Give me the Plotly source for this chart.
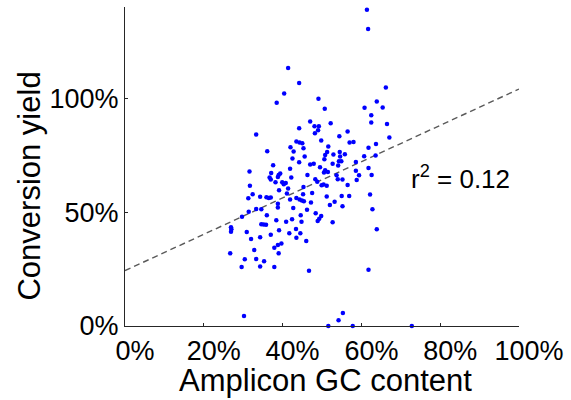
import plotly.graph_objects as go

# GC content (%) of each amplicon
gc_content = [61.4, 61.7, 41.4, 44.2, 40.4, 38.5, 66.2, 49.1, 50.7, 60.8,
              63.9, 65.4, 62.5, 62.5, 66.5, 47.0, 52.2, 48.1, 49.2, 49.0,
              48.2, 44.2, 33.3, 56.5, 54.4, 67.1, 57.0, 58.0, 49.8, 43.5,
              44.3, 45.0, 42.0, 45.3, 63.7, 61.8, 51.6, 36.1, 42.8, 52.9,
              54.5, 55.8, 51.3, 50.8, 50.6, 45.6, 42.5, 44.2, 54.6, 60.7,
              63.6, 37.6, 47.0, 47.9, 54.3, 54.9, 52.7, 58.6, 54.1, 31.6,
              41.9, 49.5, 50.8, 51.5, 50.5, 58.6, 59.4, 61.8, 62.6, 37.1,
              39.0, 39.4, 36.7, 37.0, 38.8, 46.3, 42.2, 53.7, 54.0, 55.2,
              58.8, 38.2, 39.9, 40.8, 40.3, 48.3, 48.8, 50.4, 49.9, 51.2,
              56.5, 31.7, 41.4, 39.1, 45.2, 41.1, 47.5, 32.4, 31.3, 34.3,
              35.9, 37.0, 36.5, 43.5, 44.3, 44.9, 45.4, 41.9, 38.8, 38.8,
              42.7, 46.2, 47.2, 51.2, 55.0, 56.9, 53.2, 52.0, 55.2, 62.2,
              62.8, 31.4, 33.3, 34.6, 36.0, 48.4, 49.8, 49.3, 48.9, 42.4,
              40.9, 44.6, 44.8, 52.7, 38.4, 34.6, 35.2, 35.8, 63.9, 26.9,
              27.0, 26.9, 30.9, 39.1, 43.4, 41.7, 44.5, 37.0, 32.0, 34.3,
              43.5, 46.0, 39.7, 38.8, 37.9, 32.8, 26.7, 39.0, 30.4, 33.3,
              35.3, 29.6, 34.3, 37.9, 46.7, 61.8, 30.2, 55.3, 54.2, 51.6,
              57.8, 72.8, 29.7, 45.3]

# Conversion yield (%) of each amplicon
conversion_yield = [138.8, 130.3, 113.2, 106.7, 102.0, 98.0, 104.7, 99.7, 95.3, 95.8,
                    98.5, 95.9, 92.5, 89.3, 88.6, 89.8, 89.0, 87.7, 87.7, 85.9,
                    84.6, 86.8, 84.0, 85.4, 83.3, 82.7, 80.5, 80.8, 81.4, 81.0,
                    80.5, 80.2, 78.5, 78.0, 79.9, 78.2, 78.8, 76.7, 76.6, 75.3,
                    76.4, 75.4, 76.4, 75.0, 73.2, 74.4, 73.5, 71.9, 74.4, 74.5,
                    74.8, 70.6, 70.9, 71.2, 72.3, 72.3, 71.2, 72.0, 70.4, 67.8,
                    69.0, 69.7, 68.4, 67.6, 67.4, 68.1, 66.2, 69.3, 66.3, 67.2,
                    66.3, 66.9, 65.2, 64.3, 65.4, 66.3, 65.2, 66.2, 64.4, 64.3,
                    64.1, 63.1, 63.1, 62.8, 62.2, 64.4, 63.3, 62.1, 61.8, 61.5,
                    61.9, 61.5, 60.3, 59.6, 57.8, 58.1, 58.4, 57.8, 56.1, 56.7,
                    56.5, 56.4, 56.2, 56.2, 55.5, 55.1, 54.8, 55.5, 53.6, 52.0,
                    51.8, 51.0, 54.2, 56.8, 57.1, 57.1, 54.5, 53.1, 52.6, 57.7,
                    51.2, 50.1, 51.4, 51.2, 48.6, 49.5, 48.3, 47.1, 46.1, 46.9,
                    45.7, 48.6, 45.8, 45.5, 46.4, 44.7, 44.5, 44.4, 42.5, 43.3,
                    42.5, 41.4, 41.3, 42.0, 42.6, 40.7, 40.7, 40.1, 38.2, 38.9,
                    38.7, 37.3, 36.2, 35.6, 34.3, 33.4, 31.9, 31.9, 29.3, 29.4,
                    28.4, 25.9, 26.1, 25.9, 24.2, 24.7, 4.4, 5.7, 2.5, 0.0,
                    0.0, 0.0, 48.0, 61.0]

# Linear fit
fit_intercept = 24.3
fit_slope = 0.797
r_squared_text = "r<sup>2</sup> = 0.12"

x_tick_vals = [0, 20, 40, 60, 80, 100]
x_tick_text = ["0%", "20%", "40%", "60%", "80%", "100%"]
y_tick_vals = [0, 50, 100]
y_tick_text = ["0%", "50%", "100%"]
x_title = "Amplicon GC content"
y_title = "Conversion yield"

FONT = "Arial, Liberation Sans, sans-serif"
AXIS_COLOR = "#262626"

fit_x = [x_tick_vals[0], x_tick_vals[-1]]
fit_y = [fit_intercept + fit_slope * v for v in fit_x]

fig = go.Figure()
fig.add_trace(go.Scatter(
    x=fit_x, y=fit_y, mode="lines",
    line=dict(color="#5a5a5a", width=1.4, dash="6px,4px"),
    hoverinfo="skip", showlegend=False,
))
fig.add_trace(go.Scatter(
    x=gc_content, y=conversion_yield, mode="markers",
    marker=dict(color="#0000ff", size=4.5, line=dict(width=0)),
    cliponaxis=False, showlegend=False,
))

fig.update_layout(
    width=571, height=400,
    margin=dict(l=125, r=46, t=7.3, b=73.5),
    paper_bgcolor="white", plot_bgcolor="white",
    font=dict(family=FONT, color="black"),
    showlegend=False,
    xaxis=dict(
        range=[0, 100], tickvals=x_tick_vals, ticktext=x_tick_text,
        showgrid=False, zeroline=False, showline=True, linecolor=AXIS_COLOR,
        linewidth=1.3, ticks="inside", ticklen=3, tickcolor=AXIS_COLOR,
        tickwidth=1.3, tickfont=dict(size=27, family=FONT, color="black"),
        ticklabelshift=10,
    ),
    yaxis=dict(
        range=[0, 140], tickvals=y_tick_vals, ticktext=y_tick_text,
        showgrid=False, zeroline=False, showline=True, linecolor=AXIS_COLOR,
        linewidth=1.3, ticks="inside", ticklen=3, tickcolor=AXIS_COLOR,
        tickwidth=1.3, tickfont=dict(size=27, family=FONT, color="black"),
    ),
    annotations=[
        dict(text=x_title, xref="paper", yref="paper", x=0.51, y=-0.1707,
             xanchor="center", yanchor="middle", showarrow=False,
             font=dict(size=31, family=FONT, color="black")),
        dict(text=y_title, xref="paper", yref="paper", x=-0.2425, y=0.4386,
             xanchor="center", yanchor="middle", textangle=-90, showarrow=False,
             font=dict(size=31, family=FONT, color="black")),
        dict(text=r_squared_text, xref="x", yref="y", x=72, y=65,
             xanchor="left", yanchor="middle", showarrow=False,
             font=dict(size=26, family=FONT, color="black")),
    ],
)

fig.write_html("out.html")
